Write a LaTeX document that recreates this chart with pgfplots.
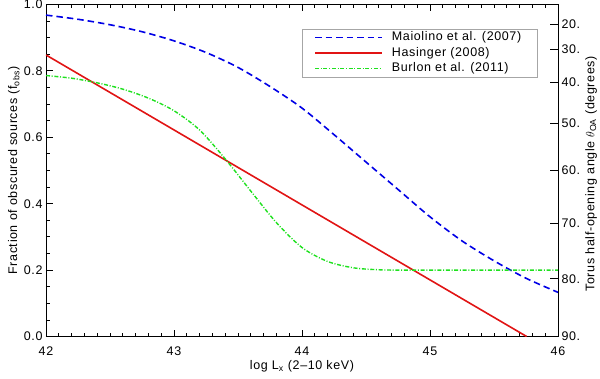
\documentclass[border=0pt]{standalone}
\usepackage{fontspec}
\setmainfont{Liberation Sans}[LetterSpace=5]
\usepackage{pgfplots}
\pgfplotsset{compat=1.18}
\definecolor{mblue}{RGB}{0,0,230}
\definecolor{mred}{RGB}{225,20,20}
\definecolor{mgreen}{RGB}{30,225,30}
\begin{document}
\begin{tikzpicture}[font=\fontsize{12.5bp}{15bp}\selectfont]
\begin{axis}[
  name=ax, scale only axis, width=512bp, height=332bp,
  at={(0bp,0bp)}, anchor=south west,
  xmin=42, xmax=46, ymin=0, ymax=1,
  xtick={42,43,44,45,46}, ytick={0,0.2,0.4,0.6,0.8,1.0},
  minor x tick num=9, minor y tick num=3,
  tick align=inside, major tick length=7bp, minor tick length=4bp,
  xtick pos=both, ytick pos=left,
  axis line style={line width=0.8bp},
  tick style={black, line width=0.8bp},
  /pgf/number format/assume math mode=true,
  yticklabel style={/pgf/number format/.cd, fixed, fixed zerofill, precision=1},
  xticklabel style={yshift=-7bp},
  xlabel={log L\textsubscript{x} (2--10 keV)},
  ylabel={Fraction of obscured sources (f\textsubscript{obs})},
  xlabel style={at={(axis description cs:0.5,-0.0708)}, anchor=north, inner sep=0pt},
  ylabel style={at={(axis description cs:-0.0508,0.5)}, anchor=south, inner sep=0pt},
]
\addplot[draw=mblue, line width=1.6bp, dash pattern=on 6.5bp off 4bp, smooth] coordinates {
 (42.00,0.968) (42.25,0.9555) (42.50,0.939) (42.75,0.918) (43.00,0.8905)
 (43.25,0.8555) (43.50,0.8105) (43.75,0.753) (44.00,0.688) (44.25,0.608)
 (44.50,0.5255) (44.75,0.443) (45.00,0.3605) (45.25,0.288) (45.50,0.228)
 (45.75,0.1755) (46.00,0.133)};
\addplot[draw=mred, line width=1.6bp] coordinates {(42.00,0.848) (45.755,0.0)};
\addplot[draw=mgreen, line width=1.4bp, dash pattern=on 4bp off 1.7bp on 1bp off 1.7bp, smooth] coordinates {
 (42.0,0.786) (42.2,0.778) (42.4,0.764) (42.6,0.745) (42.8,0.718)
 (43.0,0.680) (43.2,0.622) (43.4,0.535) (43.6,0.438) (43.8,0.343)
 (44.0,0.268) (44.2,0.226) (44.4,0.207) (44.6,0.201) (44.8,0.200)
 (45.4,0.200) (46.0,0.200)};
% legend box and samples, in the axis's own coordinates
\addplot[draw=gray!70, line width=0.6bp] coordinates {
 (44.0,0.7816) (45.836,0.7816) (45.836,0.9262) (44.0,0.9262) (44.0,0.7816)};
\addplot[draw=mblue, line width=1.6bp, dash pattern=on 6.5bp off 4bp] coordinates {(44.1016,0.9) (44.625,0.9)};
\addplot[draw=mred, line width=1.6bp] coordinates {(44.1016,0.8533) (44.625,0.8533)};
\addplot[draw=mgreen, line width=1.4bp, dash pattern=on 4bp off 1.7bp on 1bp off 1.7bp] coordinates {(44.1016,0.8075) (44.625,0.8075)};
\node[anchor=west, inner sep=0pt] at (axis cs:44.7008,0.9) {Maiolino et al. (2007)};
\node[anchor=west, inner sep=0pt] at (axis cs:44.7008,0.8533) {Hasinger (2008)};
\node[anchor=west, inner sep=0pt] at (axis cs:44.7008,0.8075) {Burlon et al. (2011)};
\coordinate (bl) at (rel axis cs:0,0);
\coordinate (tr) at (rel axis cs:1,1);
\end{axis}
\begin{axis}[
  scale only axis, width=512bp, height=332bp,
  at={(0bp,0bp)}, anchor=south west,
  xmin=42, xmax=46, ymin=0, ymax=1,
  axis x line=none, axis y line*=right,
  axis line style={line width=0.8bp},
  tick style={black, line width=0.8bp},
  ytick={0.9397,0.8660,0.7660,0.6428,0.5,0.3420,0.1736,0},
  yticklabels={20.,30.,40.,50.,60.,70.,80.,90.},
  minor y tick num=0,
  tick align=inside, major tick length=8bp,
  ylabel={Torus half-opening angle $\theta_{\mathrm{OA}}$ (degrees)},
  ylabel style={at={(axis description cs:1.0527,0.49)}, anchor=north, inner sep=0pt},
]
\end{axis}
\pgfresetboundingbox
\path[use as bounding box] ([shift={(-46bp,-42.5bp)}]bl) rectangle ([shift={(42bp,4.5bp)}]tr);
\end{tikzpicture}
\end{document}
